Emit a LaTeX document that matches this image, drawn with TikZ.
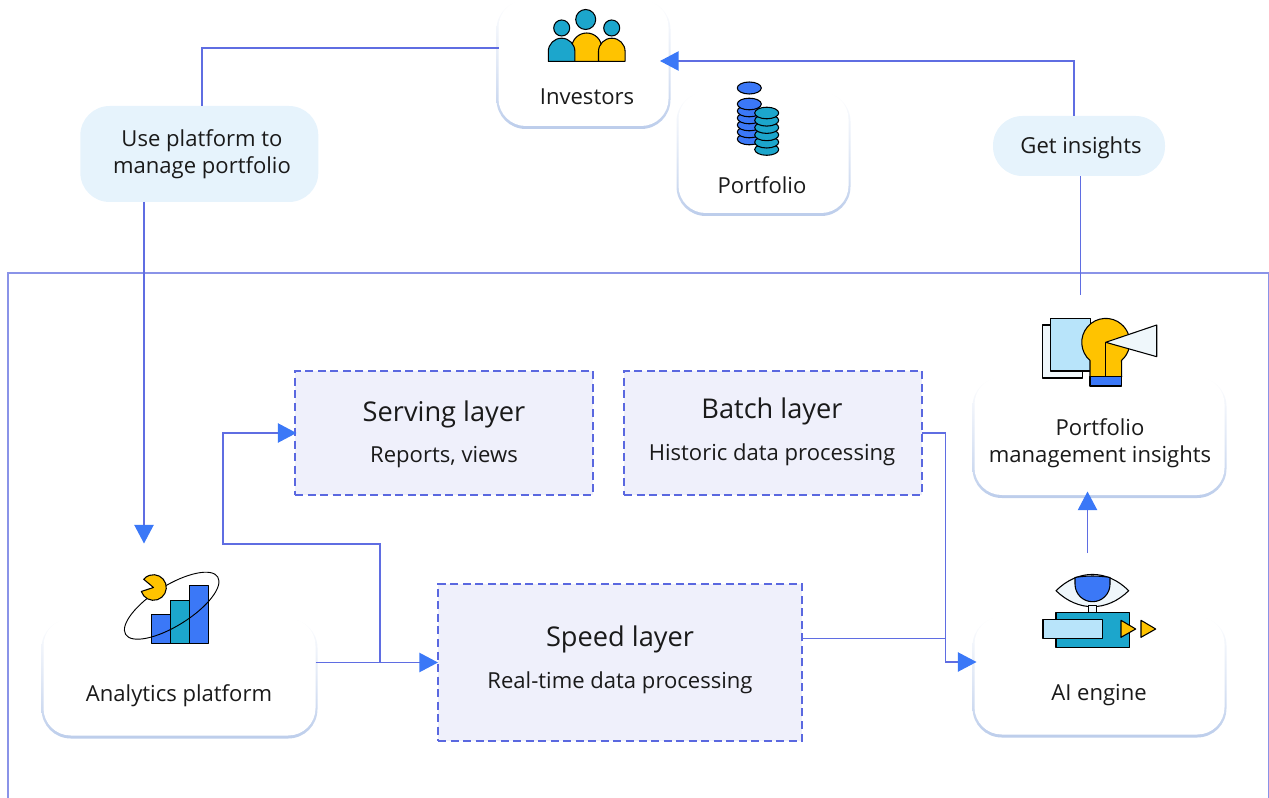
\documentclass[tikz,border=0pt]{standalone}
\usepackage{fontspec}
\setmainfont{Open Sans}
\usetikzlibrary{arrows.meta,calc}
\definecolor{linec}{HTML}{5F6DE2}
\definecolor{framec}{HTML}{8A93E8}
\definecolor{tipc}{HTML}{3B78F7}
\definecolor{dashc}{HTML}{5A68E0}
\definecolor{layerc}{HTML}{EFF0FB}
\definecolor{pillc}{HTML}{E6F3FC}
\definecolor{cardc}{HTML}{BCCDEB}
\definecolor{icteal}{HTML}{1CA6CC}
\definecolor{icblue}{HTML}{3B78F7}
\definecolor{icyell}{HTML}{FFC300}
\definecolor{icpale}{HTML}{EFF7FB}
\definecolor{icsky}{HTML}{B8E4FA}
\definecolor{inkc}{HTML}{1A1A1A}
\tikzset{
  x=0.75pt,y=0.75pt,
  sz/.style 2 args={minimum width=#1*0.75pt,minimum height=#2*0.75pt,inner sep=0pt,outer sep=0pt},
  cardedge/.style={rectangle,rounded corners=22pt,top color=white,bottom color=cardc,middle color=white!55!cardc},
  cardface/.style={rectangle,rounded corners=20.5pt,fill=white},
  pill/.style={rectangle,rounded corners=22pt,fill=pillc},
  layerbox/.style={rectangle,fill=layerc,draw=dashc,line width=2pt,dash pattern=on 6pt off 3.4pt},
  lab/.style={font=\fontsize{16.55}{20}\selectfont,text=inkc,align=center,inner sep=0pt},
  ttl/.style={font=\fontsize{20.4}{24}\selectfont,text=inkc,inner sep=0pt},
  conn/.style={draw=linec,line width=1.1pt},
  arr/.style={conn,-{Triangle[length=14pt,width=14.5pt,color=tipc,fill=tipc]}},
  ico/.style={draw=black,line width=0.8pt,line join=round},
}
\begin{document}
\begin{tikzpicture}
\useasboundingbox (0,0) rectangle (1269,-798);
% frame
\draw[draw=framec,line width=1.1pt] (8,-798) -- (8,-273) -- (1268.5,-273) -- (1268.5,-798);

% cards
\node[cardedge,sz={174}{129}] (invE) at (583.5,-64.5) {};
\node[cardface,sz={170}{126}] (inv) at (583.5,-63) {};
\node[cardedge,sz={174}{124}] (porE) at (763.5,-154) {};
\node[cardface,sz={170}{121}] (por) at (763.5,-152.5) {};
\node[cardedge,sz={254}{121}] (insE) at (1099.5,-378-59.5) {};
\node[cardface,sz={250}{118}] (ins) at (1099.5,-378-58) {};
\node[cardedge,sz={254}{121}] (aiE) at (1099.5,-617-60) {};
\node[cardface,sz={250}{118}] (ai) at (1099.5,-617-58.5) {};
\node[cardedge,sz={276}{120}] (anaE) at (179.5,-619-59.5) {};
\node[cardface,sz={272}{117}] (ana) at (179.5,-619-58) {};

% pills
\node[pill,sz={238}{96}] (pu) at (199.3,-154) {};
\node[pill,sz={172}{60}] (gi) at (1079,-146) {};

% layer boxes
\node[layerbox,sz={298}{124}] (srv) at (444,-433) {};
\node[layerbox,sz={298}{124}] (bat) at (773,-433) {};
\node[layerbox,sz={364}{157}] (spd) at (620,-662.5) {};

% labels
\node[lab] (tinv) at (587,-96.5) {Investors};
\node[lab] (tpor) at (762,-185) {Portfolio};
\node[lab] (tpu) at (202,-154.5) {Use platform to\\manage portfolio};
\node[lab] (tgi) at (1081,-148) {Get insights};
\node[ttl] (tsrv) at (444,-414) {Serving layer};
\node[lab] (ssrv) at (444,-457) {Reports, views};
\node[ttl] (tbat) at (772,-411) {Batch layer};
\node[lab] (sbat) at (772,-455) {Historic data processing};
\node[ttl] (tspd) at (620,-639) {Speed layer};
\node[lab] (sspd) at (620,-683) {Real-time data processing};
\node[lab] (tins) at (1100,-443.5) {Portfolio\\management insights};
\node[lab] (tai) at (1099,-695.5) {AI engine};
\node[lab] (tana) at (179,-695.5) {Analytics platform};

% connector free ends
\coordinate (anaTop) at (144,-543.5);
\coordinate (aiTop) at (1087.5,-553);
\coordinate (insTop) at (1080.5,-295);
\coordinate (branch) at (380,-662.5);
\coordinate (loopA) at (223,-544);
\coordinate (joinX) at (945.5,-638.5);
\coordinate (insTip) at (1087.5,-491.5);

% connectors
\draw[conn] ($(inv.west)+(0,15)$) -| ($(pu.north)+(2.5,0)$);
\draw[arr] ($(pu.south)+(-55.3,0)$) -- (anaTop);
\draw[arr] (ana.east |- spd.west) -- (spd.west);
\draw[arr] (branch) |- (loopA) |- ($(srv.west)+(1.5,0)$);
\draw[conn] ($(spd.east)+(0,24)$) -- (joinX);
\draw[arr] (bat.east) -| ($(joinX |- ai.west)+(0,13.5)$) -- ($(ai.west)+(2,13.5)$);
\draw[arr] (aiTop) -- (insTip);
\draw[conn] (insTop) -- (insTop |- gi.south);
\draw[arr] ($(gi.north)+(-5,0)$) |- ($(inv.east)+(-8.5,2)$);

% --- icons ---
% investors
\begin{scope}[ico]
\fill[icyell,draw=black] (571.7,-61.3) -- (571.7,-48) arc (180:0:15) -- (601.7,-61.3) -- cycle;
\fill[icteal,draw=black] (548.3,-61.3) -- (548.3,-51.5) arc (180:0:13.3) -- (574.9,-61.3) -- cycle;
\fill[icyell,draw=black] (598.5,-61.3) -- (598.5,-51.5) arc (180:0:13.3) -- (625.1,-61.3) -- cycle;
\fill[icteal,draw=black] (585.7,-19.5) circle (10);
\fill[icteal,draw=black] (561.7,-28) circle (8);
\fill[icteal,draw=black] (611.7,-28) circle (8);
\end{scope}

% portfolio
\begin{scope}[ico]
\fill[icblue,draw=black] (749.3,-88) ellipse (12 and 6);
\foreach \yy in {139,132,125,118,111,104}
  \fill[icblue,draw=black] (749.3,-\yy) ellipse (12 and 5.8);
\foreach \yy in {149.5,142.2,134.9,127.6,120.3,113}
  \fill[icteal,draw=black] (766.7,-\yy) ellipse (12 and 5.8);
\end{scope}

% insights
\begin{scope}[ico]
\filldraw[fill=icpale] (1042.3,-325) rectangle (1082.3,-378);
\filldraw[fill=icsky] (1050.7,-318.3) rectangle (1090.7,-371);
\filldraw[fill=icyell] (1090,-376.7) -- (1090,-360.5) arc (229:-49:24) -- (1121.7,-376.7) -- cycle;
\draw (1105.7,-342.3) -- (1105.7,-376.7);
\filldraw[fill=icblue] (1090,-376.7) rectangle (1121.7,-386);
\filldraw[fill=icpale] (1105.7,-342.3) -- (1156.7,-325) -- (1156.7,-356.7) -- cycle;
\end{scope}

% ai engine
\begin{scope}[ico]
\filldraw[fill=icpale] (1056,-590.7) .. controls (1078,-569) and (1107,-569) .. (1128.7,-590.7) .. controls (1107,-612) and (1078,-612) .. (1056,-590.7) -- cycle;
\filldraw[fill=icblue] (1075,-577.5) .. controls (1086,-575.5) and (1099,-575.5) .. (1110,-577.5) -- (1110,-584.2) arc (0:-180:17.5) -- cycle;
\filldraw[fill=icpale] (1088.3,-605.7) rectangle (1096.7,-612.3);
\filldraw[fill=icteal] (1056,-612.3) rectangle (1129.3,-647.7);
\filldraw[fill=icsky] (1043,-619.3) rectangle (1102.7,-638.3);
\filldraw[fill=icyell] (1121,-620.3) -- (1135.7,-629) -- (1121,-637.3) -- cycle;
\filldraw[fill=icyell] (1141,-620.3) -- (1155.7,-629) -- (1141,-637.3) -- cycle;
\end{scope}

% analytics
\begin{scope}[ico]
\filldraw[fill=icblue] (151.3,-614.3) rectangle (170.3,-643.3);
\filldraw[fill=icteal] (170.3,-600.3) rectangle (189.3,-643.3);
\filldraw[fill=icblue] (189.3,-585.3) rectangle (208.3,-643.3);
\draw[line width=0.7pt,rotate around={32:(171.7,-605.7)}] (171.7,-605.7) ellipse (54.3 and 20.2);
\filldraw[fill=icyell] (153.5,-587.5) -- ++(198:12.8) arc (198:500:12.8) -- cycle;
\end{scope}
\end{tikzpicture}
\end{document}
